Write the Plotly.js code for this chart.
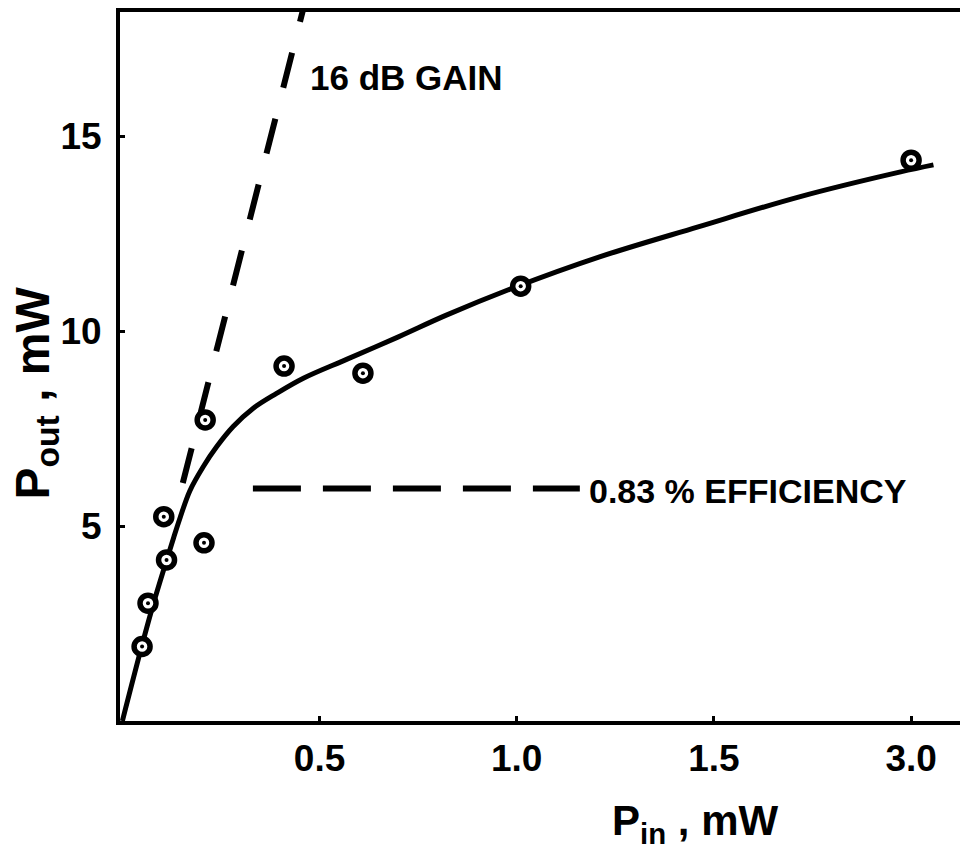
<!DOCTYPE html>
<html>
<head>
<meta charset="utf-8">
<script src="https://cdn.plot.ly/plotly-3.0.1.min.js"></script>
<style>
  html, body { margin: 0; padding: 0; background: #fff; }
  #chart { width: 960px; height: 865px; }
</style>
</head>
<body>
<div id="chart"></div>
<script>
// Measured output power against input power (mW)
const measuredPin  = [0.05, 0.065, 0.105, 0.112, 0.207, 0.21, 0.41, 0.61, 1.01, 3.0];
const measuredPout = [1.91, 3.02, 5.24, 4.13, 4.57, 7.72, 9.10, 8.92, 11.15, 14.38];

// Smooth curve drawn through the measurements
const curvePin  = [0, 0.05, 0.08, 0.11, 0.13, 0.146, 0.171, 0.205, 0.239, 0.281, 0.332, 0.391, 0.459, 0.57, 0.70, 0.82, 0.99, 1.21, 1.46, 2.15, 2.92, 3.17];
const curvePout = [0, 1.95, 3.05, 4.05, 4.70, 5.20, 5.90, 6.52, 7.03, 7.55, 8.02, 8.40, 8.79, 9.28, 9.85, 10.40, 11.10, 11.90, 12.67, 13.44, 14.08, 14.26];

// Small-signal gain reference (dashed), visible from about 6 mW upward
const gainDb = 16;
const gainPout = [6.1, 18.6];

// 0.83 % efficiency level (dashed)
const effPin  = [0.331, 1.16];
const effPout = [5.96, 5.96];

// Axis ticks
const xTickPin  = [0.5, 1.0, 1.5, 3.0];
const xTickText = ['0.5', '1.0', '1.5', '3.0'];
const yTickVals = [5, 10, 15];
const yTickText = ['5', '10', '15'];

// The Pin axis is linear up to 1.5 mW and compressed 3:1 beyond it
const AXIS_BREAK = 1.5, SQUEEZE = 3;
const axisPos = p => (p <= AXIS_BREAK ? p : AXIS_BREAK + (p - AXIS_BREAK) / SQUEEZE);

const gainFactor = Math.pow(10, gainDb / 10);
const gainPin = gainPout.map(v => v / gainFactor);

const FONT = 'Liberation Sans, Arial, Helvetica, sans-serif';
const INK = '#000';

const traces = [
  {
    x: gainPin.map(axisPos), y: gainPout,
    mode: 'lines', line: { color: INK, width: 6, dash: '36px,32px' },
    hoverinfo: 'skip', showlegend: false
  },
  {
    x: effPin.map(axisPos), y: effPout,
    mode: 'lines', line: { color: INK, width: 6, dash: '48px,22px' },
    hoverinfo: 'skip', showlegend: false
  },
  {
    x: curvePin.map(axisPos), y: curvePout,
    mode: 'lines', line: { color: INK, width: 5, shape: 'spline', smoothing: 1 },
    hoverinfo: 'skip', showlegend: false
  },
  {
    x: measuredPin.map(axisPos), y: measuredPout,
    mode: 'markers',
    marker: { symbol: 'circle', size: 16, color: '#fff', line: { color: INK, width: 5.5 } },
    showlegend: false
  },
  {
    x: measuredPin.map(axisPos), y: measuredPout,
    mode: 'markers',
    marker: { symbol: 'circle', size: 4, color: INK, line: { width: 0 } },
    hoverinfo: 'skip', showlegend: false
  }
];

const layout = {
  width: 960, height: 865,
  paper_bgcolor: '#fff', plot_bgcolor: '#fff',
  margin: { l: 120, r: 0, t: 12, b: 144, pad: 0 },
  font: { family: FONT, color: INK, size: 36, weight: 'bold' },
  showlegend: false,
  xaxis: {
    range: [-0.006, 2.124],
    showgrid: false, zeroline: false,
    showline: true, linecolor: INK, linewidth: 4, mirror: true,
    ticks: 'inside', ticklen: 5, tickwidth: 3, tickcolor: INK,
    tickmode: 'array', tickvals: xTickPin.map(axisPos), ticktext: xTickText,
    tickfont: { family: FONT, size: 37, color: INK, weight: 'bold' },
    ticklabelstandoff: 2,
    fixedrange: true
  },
  yaxis: {
    range: [0, 18.18],
    showgrid: false, zeroline: false,
    showline: true, linecolor: INK, linewidth: 4, mirror: false,
    ticks: 'inside', ticklen: 5, tickwidth: 3, tickcolor: INK,
    tickmode: 'array', tickvals: yTickVals, ticktext: yTickText,
    tickfont: { family: FONT, size: 37, color: INK, weight: 'bold' },
    ticklabelstandoff: 7,
    fixedrange: true
  },
  annotations: [
    {
      text: 'P<sub>in</sub> , mW', xref: 'paper', yref: 'paper',
      x: 0.684, y: -0.145, xanchor: 'center', yanchor: 'middle', showarrow: false,
      font: { family: FONT, size: 42, color: INK, weight: 'bold' }
    },
    {
      text: 'P<sub>out</sub> , mW', xref: 'paper', yref: 'paper', textangle: -90,
      x: -0.1, y: 0.462, xanchor: 'center', yanchor: 'middle', showarrow: false,
      font: { family: FONT, size: 48, color: INK, weight: 'bold' }
    },
    {
      text: '16 dB GAIN', xref: 'x', yref: 'y',
      x: 0.4705, y: 16.5, xanchor: 'left', yanchor: 'middle', showarrow: false,
      font: { family: FONT, size: 35, color: INK, weight: 'bold' }
    },
    {
      text: '0.83 % EFFICIENCY', xref: 'x', yref: 'y',
      x: 1.178, y: 5.9, xanchor: 'left', yanchor: 'middle', showarrow: false,
      font: { family: FONT, size: 34, color: INK, weight: 'bold' }
    }
  ]
};

Plotly.newPlot('chart', traces, layout, { staticPlot: true, displayModeBar: false });
</script>
</body>
</html>
